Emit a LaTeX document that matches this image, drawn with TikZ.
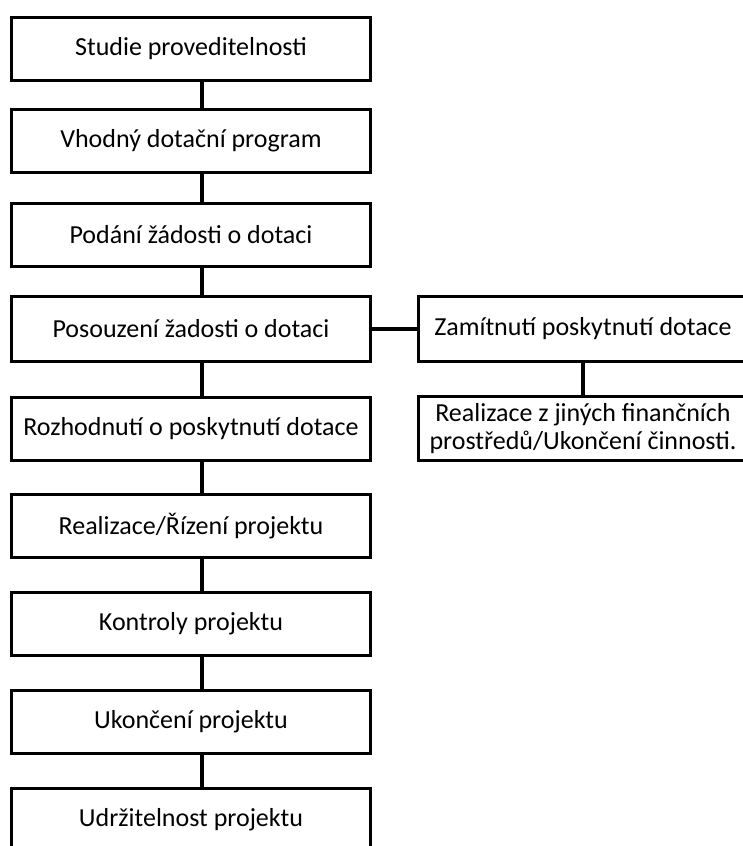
\documentclass[tikz,border=0pt]{standalone}
\usepackage{fontspec}
\setmainfont{Carlito}

\begin{document}
\begin{tikzpicture}[
  x=1pt, y=-1pt,
  font=\fontsize{26}{28}\selectfont,
  stage/.style={
    draw=black, fill=white, line width=3pt,
    minimum width=359pt, minimum height=63pt,
    inner sep=0pt, align=center
  },
  branch/.style={stage, minimum width=329pt},
  link/.style={draw=black, line width=4.5pt}
]
\useasboundingbox (0,0) rectangle (743,846);

% Main sequence of the project.
\node[stage] (feasibility) at (191,49) {Studie proveditelnosti};
\node[stage] (program) at (191,141) {Vhodný dotační program};
\node[stage] (application) at (191,235) {Podání žádosti o dotaci};
\node[stage, minimum height=65pt] (assessment) at (191,329)
  {Posouzení žadosti o dotaci};
\node[stage] (decision) at (191,429) {Rozhodnutí o poskytnutí dotace};
\node[stage] (implementation) at (191,526) {Realizace/Řízení projektu};
\node[stage] (controls) at (191,624) {Kontroly projektu};
\node[stage] (completion) at (191,722) {Ukončení projektu};
\node[stage] (sustainability) at (191,820) {Udržitelnost projektu};

% Branch after a rejected application.
\node[branch, minimum height=65pt] (rejection) at (583,329)
  {Zamítnutí poskytnutí dotace};
\node[branch, minimum height=64pt] (alternative) at (583,428.5)
  {Realizace z jiných finančních\\prostředů/Ukončení činnosti.};

% Connectors.
\foreach \a/\b in {feasibility/program, program/application,
    application/assessment, assessment/decision,
    decision/implementation, implementation/controls,
    controls/completion, completion/sustainability}
  \draw[link] ([xshift=11pt]\a.south) -- ([xshift=11pt]\b.north);
\draw[link] (assessment.east) -- (rejection.west);
\draw[link] (rejection.south) -- (alternative.north);

\end{tikzpicture}
\end{document}
